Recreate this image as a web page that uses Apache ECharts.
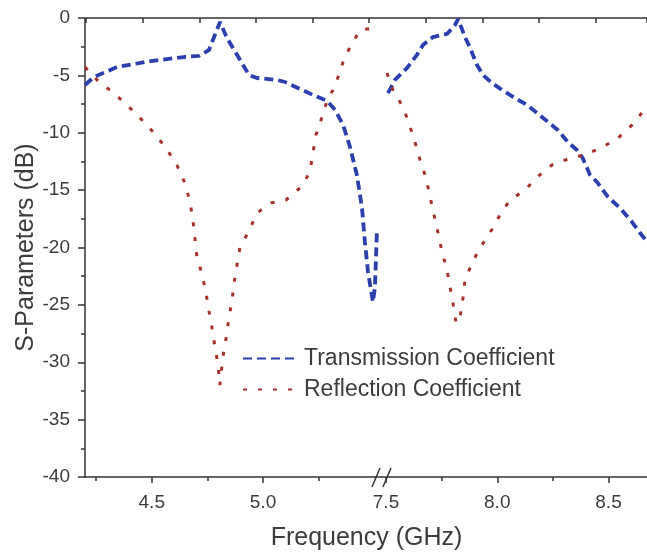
<!DOCTYPE html>
<html><head><meta charset="utf-8">
<script src="https://cdn.jsdelivr.net/npm/echarts@6/dist/echarts.min.js"></script>
<style>html,body{margin:0;padding:0;background:#fff}#c{width:647px;height:552px}</style>
</head><body><div id="c"></div>
<script>
// ---- data (frequency in GHz, S-parameters in dB) ----
const transLeftF  = [4.200, 4.240, 4.344, 4.497, 4.645, 4.712, 4.757, 4.789, 4.807, 4.838, 4.892, 4.937, 4.973, 5.063, 5.099, 5.225, 5.288, 5.324, 5.360, 5.391, 5.422, 5.445, 5.458, 5.472, 5.494, 5.503, 5.512];
const transLeftDb = [-5.84, -5.14, -4.27, -3.75, -3.40, -3.30, -2.79, -1.22, -0.35, -1.74, -3.49, -4.97, -5.23, -5.40, -5.58, -6.71, -7.23, -8.02, -9.32, -11.24, -13.68, -16.56, -19.52, -22.13, -24.75, -23.50, -18.60];
const transRightF  = [7.509, 7.540, 7.594, 7.639, 7.666, 7.711, 7.774, 7.810, 7.824, 7.855, 7.878, 7.909, 7.936, 7.976, 8.021, 8.071, 8.134, 8.179, 8.228, 8.272, 8.317, 8.358, 8.384, 8.417, 8.448, 8.498, 8.552, 8.606, 8.642, 8.674];
const transRightDb = [-6.54, -5.40, -4.36, -3.22, -2.35, -1.66, -1.39, -0.61, -0.09, -1.66, -2.61, -4.10, -4.97, -5.66, -6.27, -6.88, -7.58, -8.28, -9.06, -9.76, -10.81, -11.50, -12.20, -13.68, -14.29, -15.60, -16.56, -17.78, -18.74, -19.52];
const reflLeftF  = [4.200, 4.263, 4.330, 4.398, 4.456, 4.510, 4.564, 4.613, 4.649, 4.672, 4.685, 4.694, 4.703, 4.726, 4.744, 4.757, 4.771, 4.784, 4.798, 4.806, 4.820, 4.834, 4.847, 4.861, 4.870, 4.883, 4.897, 4.937, 4.973, 5.036, 5.103, 5.171, 5.211, 5.225, 5.238, 5.265, 5.292, 5.315, 5.333, 5.360, 5.391, 5.436, 5.503];
const reflLeftDb = [-4.27, -5.58, -6.54, -7.76, -8.89, -10.02, -11.33, -12.81, -14.38, -16.03, -17.60, -19.17, -20.83, -22.31, -23.97, -25.53, -27.02, -28.67, -30.24, -32.00, -29.54, -27.89, -26.14, -24.58, -23.09, -21.53, -19.96, -18.56, -16.99, -16.12, -15.86, -14.73, -13.42, -11.68, -10.20, -8.63, -6.97, -6.27, -5.40, -3.83, -2.53, -1.05, -0.87];
const reflRightF  = [7.504, 7.531, 7.576, 7.603, 7.630, 7.653, 7.680, 7.698, 7.716, 7.734, 7.752, 7.774, 7.788, 7.801, 7.815, 7.833, 7.846, 7.855, 7.887, 7.922, 7.967, 8.012, 8.057, 8.125, 8.179, 8.246, 8.318, 8.403, 8.475, 8.543, 8.606, 8.660, 8.674];
const reflRightDb = [-4.79, -6.27, -7.76, -9.15, -10.81, -12.37, -13.94, -15.60, -17.17, -18.74, -20.39, -21.96, -23.44, -24.84, -26.60, -26.06, -24.40, -22.83, -21.35, -20.04, -18.74, -17.17, -15.86, -14.99, -13.86, -12.81, -12.29, -11.85, -11.24, -10.46, -9.32, -8.02, -7.67];

const leftMajor  = [4.5, 5.0];
const leftMinor  = [4.25, 4.75, 5.25];
const rightMajor = [7.5, 8.0, 8.5];
const rightMinor = [7.75, 8.25];
const seriesNames = ['Transmission Coefficient', 'Reflection Coefficient'];

// ---- layout ----
const PL = 85, PT = 18, PH = 459, BRK = 382, W = 647;
const PX_PER_GHZ = 222.5;
const leftMin = 4.2, leftMax = leftMin + (BRK - PL) / PX_PER_GHZ;
const rightMin = 7.482, rightMax = rightMin + (W - BRK) / PX_PER_GHZ;
const BLUE = '#2b3fae', RED = '#a8322b', AX = '#333333', TXT = '#3c3c3c';
const FONT = 'Liberation Sans, Arial, sans-serif';

const zip = (a, b) => a.map((v, i) => [v, b[i]]);

const chart = echarts.init(document.getElementById('c'), null, {renderer: 'canvas'});

function xMain(grid, min, max, major) {
  return {
    gridIndex: grid, type: 'value', position: 'bottom', offset: 0, min: min, max: max,
    axisLine: {show: true, onZero: false, lineStyle: {color: AX, width: 1.5}},
    axisTick: {show: true, inside: false, length: 6, customValues: major, lineStyle: {color: AX, width: 1.5}},
    axisLabel: {show: true, customValues: major, formatter: v => v.toFixed(1), fontSize: 19, color: TXT, fontFamily: FONT, margin: 16},
    splitLine: {show: false}
  };
}
function xMinor(grid, min, max, minor) {
  return {
    gridIndex: grid, type: 'value', position: 'bottom', offset: 0, min: min, max: max,
    axisLine: {show: false, onZero: false},
    axisTick: {show: true, inside: false, length: 4, customValues: minor, lineStyle: {color: AX, width: 1.5}},
    axisLabel: {show: false}, splitLine: {show: false}
  };
}
const yHidden = g => ({gridIndex: g, type: 'value', min: -40, max: 0, show: false, splitLine: {show: false}});

const lineSeries = (name, xi, yi, data, color, dash, width) => ({
  name: name, type: 'line', xAxisIndex: xi, yAxisIndex: yi, data: data,
  symbol: 'none', smooth: false, clip: true,
  lineStyle: {color: color, width: width, type: dash},
  itemStyle: {color: color}
});

chart.setOption({
  animation: false,
  backgroundColor: '#fff',
  textStyle: {fontFamily: FONT},
  grid: [
    {left: PL, top: PT, width: BRK - PL, height: PH, outerBoundsMode: 'none', containLabel: false},
    {left: BRK, top: PT, width: W - BRK, height: PH, outerBoundsMode: 'none', containLabel: false},
    {left: PL + 1, top: PT, width: W - PL - 1, height: PH, outerBoundsMode: 'none', containLabel: false}
  ],
  xAxis: [
    xMain(0, leftMin, leftMax, leftMajor),
    xMinor(0, leftMin, leftMax, leftMinor),
    xMain(1, rightMin, rightMax, rightMajor),
    xMinor(1, rightMin, rightMax, rightMinor),
    {gridIndex: 2, type: 'value', position: 'top', min: 0, max: (W - PL - 1) / 56.625, interval: 1,
     axisLine: {show: true, onZero: false, lineStyle: {color: AX, width: 1.5}},
     axisTick: {show: true, inside: true, length: 5, lineStyle: {color: AX, width: 1.5}},
     axisLabel: {show: false}, splitLine: {show: false}},
    {gridIndex: 2, type: 'value', position: 'bottom', offset: 0, min: 0, max: 1,
     axisLine: {show: false, onZero: false}, axisTick: {show: false}, axisLabel: {show: false}, splitLine: {show: false},
     name: 'Frequency (GHz)', nameLocation: 'middle', nameGap: 49,
     nameTextStyle: {fontSize: 25, color: TXT, fontFamily: FONT}}
  ],
  yAxis: [
    {gridIndex: 0, type: 'value', min: -40, max: 0, interval: 5, position: 'left',
     axisLine: {show: true, onZero: false, lineStyle: {color: AX, width: 1.5}},
     axisTick: {show: true, inside: false, length: 7, lineStyle: {color: AX, width: 1.5}},
     minorTick: {show: true, splitNumber: 2, length: 4, lineStyle: {color: AX, width: 1.5}},
     axisLabel: {fontSize: 19, color: TXT, fontFamily: FONT, margin: 15},
     splitLine: {show: false}, minorSplitLine: {show: false},
     name: 'S-Parameters (dB)', nameLocation: 'middle', nameGap: 46,
     nameTextStyle: {fontSize: 25, color: TXT, fontFamily: FONT}},
    yHidden(1),
    yHidden(2)
  ],
  legend: {
    data: seriesNames, orient: 'vertical', left: 237, top: 342,
    itemWidth: 53, itemHeight: 12, itemGap: 8,
    itemStyle: {opacity: 0},
    textStyle: {fontSize: 23, color: TXT, fontFamily: FONT, padding: [0, 0, 0, 3]},
    selectedMode: false
  },
  series: [
    lineSeries(seriesNames[0], 0, 0, zip(transLeftF, transLeftDb), BLUE, [9, 5], 3.8),
    lineSeries(seriesNames[0], 2, 1, zip(transRightF, transRightDb), BLUE, [9, 5], 3.8),
    lineSeries(seriesNames[1], 0, 0, zip(reflLeftF, reflLeftDb), RED, [4, 11], 3),
    lineSeries(seriesNames[1], 2, 1, zip(reflRightF, reflRightDb), RED, [4, 11], 3)
  ],
  graphic: [
    {type: 'line', z: 100, shape: {x1: BRK - 10, y1: PT + PH + 10, x2: BRK - 2, y2: PT + PH - 9}, style: {stroke: AX, lineWidth: 1.5}},
    {type: 'line', z: 100, shape: {x1: BRK + 1, y1: PT + PH + 10, x2: BRK + 9, y2: PT + PH - 9}, style: {stroke: AX, lineWidth: 1.5}}
  ]
});
</script></body></html>
